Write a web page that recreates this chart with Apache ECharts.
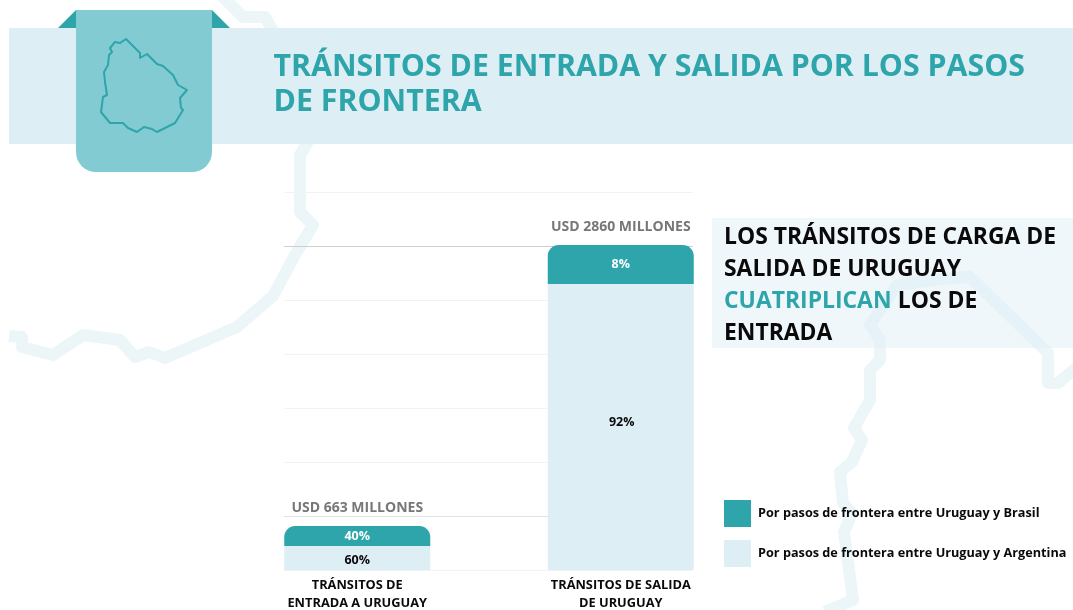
<!DOCTYPE html>
<html><head><meta charset="utf-8">
<style>html,body{margin:0;padding:0;background:#fff}#c{width:1073px;height:610px}</style>
<script src="https://cdn.jsdelivr.net/npm/echarts@6/dist/echarts.min.js"></script>
</head><body><div id="c"></div>
<script>
// Data. Bar lengths in the source are not proportional to the printed totals,
// so the bar values are read off the chart's own gridlines.
const categories = ['TRÁNSITOS DE\nENTRADA A URUGUAY', 'TRÁNSITOS DE SALIDA\nDE URUGUAY'];
const seriesArgentinaName = 'Por pasos de frontera entre Uruguay y Argentina';
const seriesBrasilName = 'Por pasos de frontera entre Uruguay y Brasil';
const argentinaValues = [222, 2648];
const brasilValues = [185, 361];
const argentinaLabels = ['60%', '92%'];
const brasilLabels = ['40%', '8%'];
const totalLabels = ['USD 663 MILLONES', 'USD 2860 MILLONES'];
const totalAnchors = [0, 0];
const TEAL = '#2da5aa', PALE = '#deeef5', FONT = '"Open Sans", sans-serif';
const light = '#f3f3f3';

// Decorative background: map outline and header artwork
const borderPaths = [
  [[9,336],[22,337],[22,347],[53,355],[83,335],[120,340],[135,357],[149,352],[165,358],[237,327],[273,296],[295,255],[313,225],[300,212],[300,155],[310,138]],
  [[222,-4],[243,17],[265,17],[278,40]],
  [[825,612],[853,600],[844,532],[852,513],[843,503],[840,472],[852,462],[862,440],[854,428],[870,400],[870,370],[880,360],[880,340],[870,325],[897,285],[940,279],[970,277],[1048,353],[1048,383],[1058,383],[1076,368]]
];
const uruguay = [[110,48],[115,42],[120,43],[126,39],[140,53],[140,58],[147,54],[157,64],[163,66],[173,75],[178,85],[187,90],[180,98],[181,108],[183,110],[175,123],[157,132],[152,129],[144,127],[137,132],[128,128],[123,123],[110,123],[101,112],[103,97],[107,95],[105,82],[104,72],[108,65],[109,55],[112,52]];

const bg = [];
borderPaths.forEach(p => bg.push({type:'polyline', z:-10, shape:{points:p}, style:{stroke:'#ecf6f9', lineWidth:12, fill:null, lineJoin:'round', lineCap:'butt'}, silent:true}));
bg.push({type:'rect', z:-9, shape:{x:9,y:28,width:1064,height:116}, style:{fill:PALE}, silent:true});
bg.push({type:'rect', z:-9, shape:{x:712,y:218,width:361,height:130}, style:{fill:'rgba(222,238,245,0.45)'}, silent:true});
bg.push({type:'polygon', z:10, shape:{points:[[58,28],[76,10],[76,28]]}, style:{fill:TEAL}, silent:true});
bg.push({type:'polygon', z:10, shape:{points:[[212,10],[230,28],[212,28]]}, style:{fill:TEAL}, silent:true});
bg.push({type:'rect', z:11, shape:{x:76,y:10,width:136,height:162,r:[0,0,20,20]}, style:{fill:'#82cbd3'}, silent:true});
bg.push({type:'polygon', z:12, shape:{points:uruguay}, style:{fill:null, stroke:TEAL, lineWidth:2, lineJoin:'round'}, silent:true});
bg.push({type:'text', z:12, left:273.5, top:50, style:{text:'TRÁNSITOS DE ENTRADA Y SALIDA POR LOS PASOS\nDE FRONTERA', fill:TEAL, font:'700 30.3px '+FONT, lineHeight:35}, silent:true});
bg.push({type:'text', z:12, left:724, top:226, style:{
  text:'{b|LOS TRÁNSITOS DE CARGA DE}\n{b|SALIDA DE URUGUAY}\n{t|CUATRIPLICAN} {c|LOS DE}\n{b|ENTRADA}',
  rich:{b:{fill:'#0a0a0a', font:'700 22.9px '+FONT, lineHeight:32},
        c:{fill:'#0a0a0a', font:'700 22.9px '+FONT, lineHeight:32, padding:[0,0,0,3]},
        t:{fill:TEAL, font:'700 22.9px '+FONT, lineHeight:32}}
}, silent:true});

const opt = {
  animation:false,
  backgroundColor:'#fff',
  textStyle:{fontFamily:FONT},
  graphic:{elements:bg},
  legend:{
    left:724, top:500, padding:0, orient:'vertical', itemWidth:27, itemHeight:27, itemGap:13, icon:'rect',
    data:[seriesBrasilName, seriesArgentinaName], selectedMode:false,
    textStyle:{color:'#0a0a0a', fontSize:12.7, fontWeight:700, fontFamily:FONT, padding:[2,0,0,2]}
  },
  grid:[
    {left:284, width:409, top:192, height:378, containLabel:false, outerBoundsMode:'none'},
    {left:225.5, width:527, top:192, height:378, containLabel:false, outerBoundsMode:'none'}
  ],
  xAxis:[
    {gridIndex:0, type:'value', min:0, max:1, show:false},
    {gridIndex:1, type:'category', data:categories,
     axisLine:{show:false}, axisTick:{show:false},
     axisLabel:{interval:0, color:'#0a0a0a', fontSize:12.8, fontWeight:700, fontFamily:FONT, lineHeight:18, margin:6}}
  ],
  yAxis:[
    {gridIndex:0, type:'value', min:0, max:3500, interval:500,
     axisLine:{show:false}, axisTick:{show:false}, axisLabel:{show:false},
     splitLine:{show:true, lineStyle:{width:1, color:[light,'#e2e2e2',light,light,light,light,'#cfcfcf',light]}}},
    {gridIndex:1, type:'value', min:0, max:3500, interval:500, show:false, splitLine:{show:false}}
  ],
  series:[
    {name:seriesArgentinaName, type:'bar', stack:'t', xAxisIndex:1, yAxisIndex:1, barWidth:146,
     data:argentinaValues.map((v,i)=>({value:v, label:{offset:[[0,2],[1,-5]][i]}})),
     itemStyle:{color:PALE},
     label:{show:true, position:'inside', color:'#0a0a0a', fontSize:12.5, fontWeight:700, fontFamily:FONT, formatter:p=>argentinaLabels[p.dataIndex]}},
    {name:seriesBrasilName, type:'bar', stack:'t', xAxisIndex:1, yAxisIndex:1, barWidth:146, data:brasilValues,
     itemStyle:{color:TEAL, borderRadius:[11,11,0,0]},
     label:{show:true, position:'inside', color:'#fff', fontSize:12.5, fontWeight:700, fontFamily:FONT, formatter:p=>brasilLabels[p.dataIndex]}},
    {name:'Total', type:'bar', stack:'t', xAxisIndex:1, yAxisIndex:1, barWidth:146, data:totalAnchors,
     itemStyle:{color:'transparent'},
     label:{show:true, position:'top', distance:11, color:'#777', fontSize:14, fontWeight:700, fontFamily:FONT, formatter:p=>totalLabels[p.dataIndex]}}
  ]
};
const chart = echarts.init(document.getElementById('c'), null, {renderer:'canvas'});
chart.setOption(opt);
</script></body></html>
